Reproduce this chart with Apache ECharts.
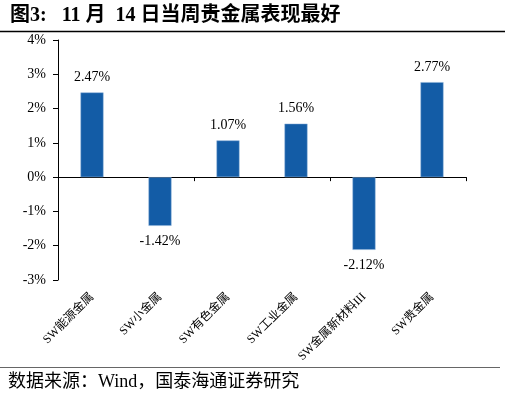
<!DOCTYPE html>
<html><head><meta charset="utf-8">
<script src="https://cdn.jsdelivr.net/npm/echarts@6/dist/echarts.min.js"></script>
<style>html,body{margin:0;padding:0;background:#fff}#c{width:510px;height:395px}</style>
</head><body><div id="c"></div>
<script>
const categories = ['SW能源金属', 'SW小金属', 'SW有色金属', 'SW工业金属', 'SW金属新材料III', 'SW贵金属'];
const values = [2.47, -1.42, 1.07, 1.56, -2.12, 2.77];
const yTicks = [-3, -2, -1, 0, 1, 2, 3, 4];
const titleText = '图3:   11 月  14 日当周贵金属表现最好';
const sourceText = '数据来源：Wind，国泰海通证券研究';

const FONT = '"Liberation Serif", "Times New Roman", "Noto Sans CJK SC", serif';
const chart = echarts.init(document.getElementById('c'), null, {renderer: 'canvas'});
chart.setOption({
  animation: false,
  backgroundColor: '#fff',
  title: [
    {text: titleText, left: 5, top: 1, textStyle: {fontFamily: FONT, fontSize: 20, fontWeight: 'bold', color: '#000'}},
    {text: sourceText, left: 3, top: 368, textStyle: {fontFamily: FONT, fontSize: 18, fontWeight: 'normal', color: '#000'}}
  ],
  graphic: [
    {type: 'line', shape: {x1: 0, y1: 31.5, x2: 505, y2: 31.5}, style: {stroke: '#000', lineWidth: 1.5}},
    {type: 'line', shape: {x1: 0, y1: 367.5, x2: 500, y2: 367.5}, style: {stroke: '#666', lineWidth: 1}}
  ],
  grid: {left: 58, right: 44, top: 40, bottom: 115},
  xAxis: [
    {type: 'category', data: categories, axisLine: {onZero: true, lineStyle: {color: '#000', width: 1}},
     axisTick: {show: true, length: 4, lineStyle: {color: '#000'}}, axisLabel: {show: false}},
    {type: 'category', data: categories, position: 'bottom', axisLine: {show: false, onZero: false}, axisTick: {show: false},
     axisLabel: {rotate: 45, margin: 15, fontFamily: FONT, fontSize: 12, color: '#000', interval: 0}}
  ],
  yAxis: {type: 'value', min: yTicks[0], max: yTicks[yTicks.length - 1], interval: 1,
    axisLine: {show: true, lineStyle: {color: '#000'}},
    axisTick: {show: true, inside: false, length: 5, lineStyle: {color: '#000'}},
    splitLine: {show: false},
    axisLabel: {margin: 12, fontFamily: FONT, fontSize: 14, color: '#000', formatter: v => v + '%'}},
  series: [{
    type: 'bar', xAxisIndex: 0, barWidth: 23,
    itemStyle: {color: '#135ca6', borderColor: '#8fb3d9', borderWidth: 0.5},
    data: values.map(v => ({value: v, label: {position: v >= 0 ? 'top' : 'bottom'}})),
    label: {show: true, distance: 8, fontFamily: FONT, fontSize: 14, color: '#000', formatter: p => p.value.toFixed(2) + '%'}
  }]
});
</script></body></html>
